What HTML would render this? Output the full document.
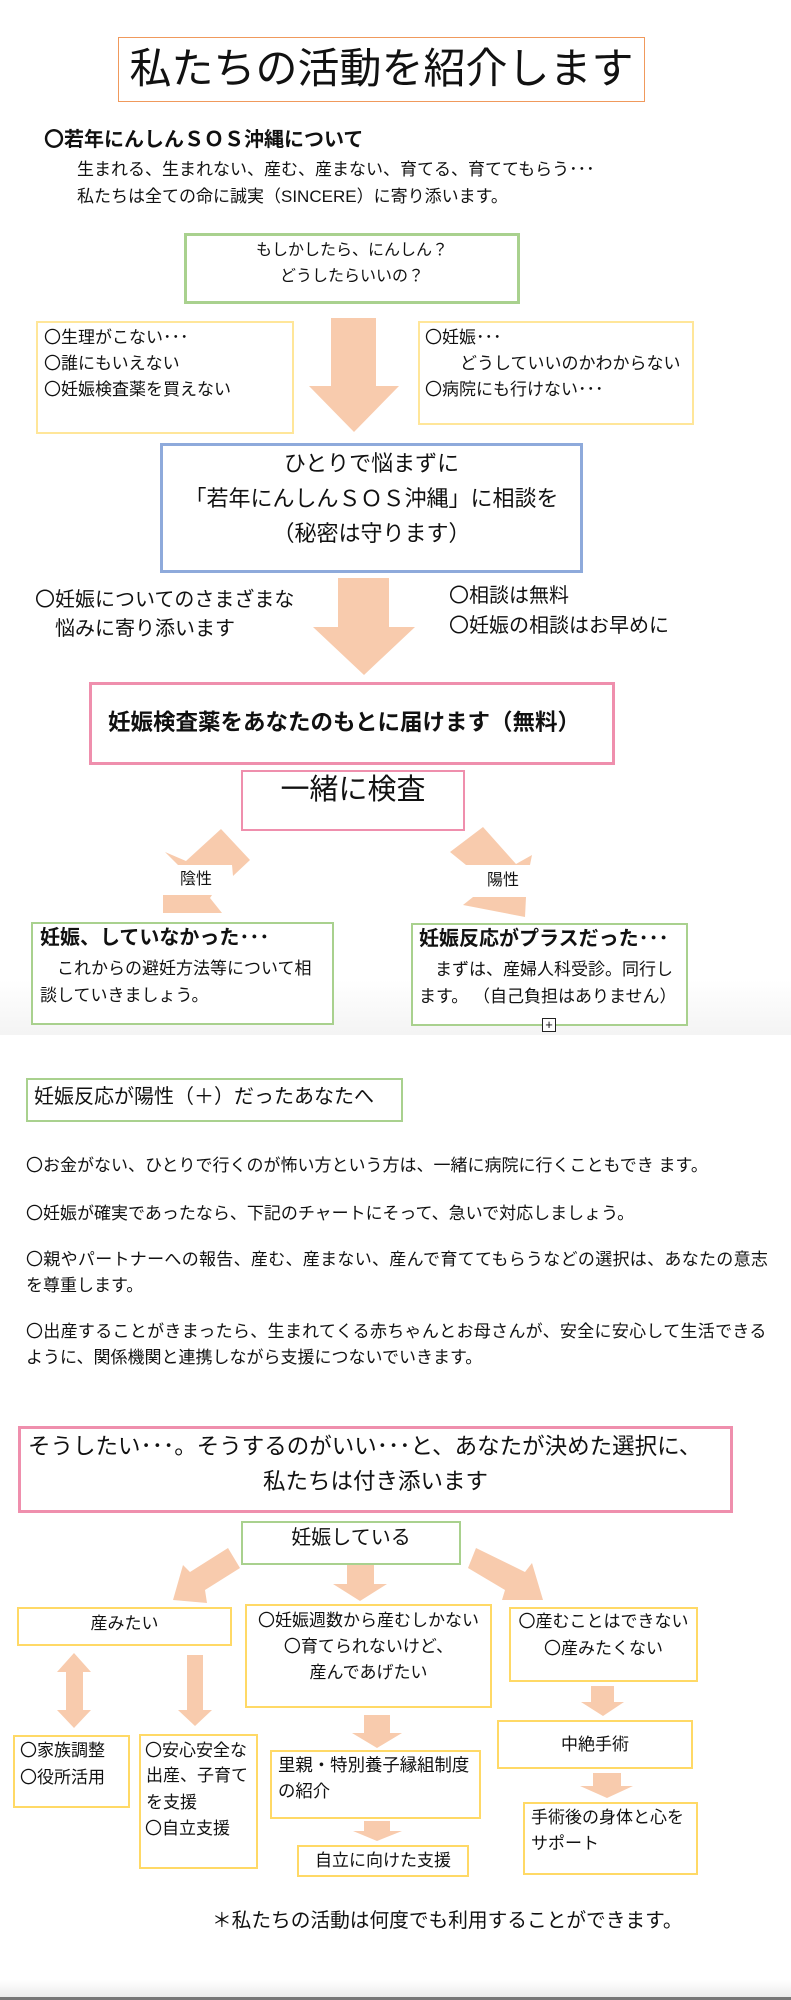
<!DOCTYPE html>
<html><head><meta charset="utf-8">
<style>
html,body{margin:0;padding:0;}
body{width:791px;height:2000px;position:relative;background:#fff;overflow:hidden;font-family:"Liberation Sans","Noto Sans CJK JP",sans-serif;color:#111;}
.b{position:absolute;box-sizing:border-box;}
.t{position:absolute;white-space:nowrap;line-height:1;}
.c{text-align:center;}
svg{position:absolute;left:0;top:0;}
</style></head><body>
<div class="b" style="left:0;top:0;width:791px;height:1035px;background:linear-gradient(#fff 0,#fff 980px,#f4f4f4 1034px);"></div>
<div class="b" style="left:0;top:1980px;width:791px;height:17px;background:linear-gradient(#fff,#ececec);"></div>
<div class="b" style="left:0;top:1997px;width:791px;height:3px;background:#777;"></div>

<svg width="791" height="2000">
<g fill="#f8cbad">
<polygon points="331,318 376,318 376,386 399,386 354,432 309,386 331,386"/>
<polygon points="338,578 389,578 389,627 415,627 364,675 313,627 338,627"/>
<polygon points="165,852 178,865 232,865 233,876 250,860 221,829 186,861"/>
<polygon points="163,895 212,895 210,898 222,913 163,913"/>
<polygon points="483,827 450,852 466,865 530,865 532,855 516,864"/>
<polygon points="473,897 526,897 525,917 463,905"/>
<polygon points="228,1548 240,1568 205,1590 207,1603 173,1600 183,1565 190,1572"/>
<polygon points="347,1565 374,1565 374,1584 387,1584 360,1601 333,1584 347,1584"/>
<polygon points="476,1548 468,1568 505,1590 502,1600 543,1600 532,1563 525,1572"/>
<polygon points="74,1653 91,1672 83,1672 83,1710 91,1710 74,1728 57,1710 66,1710 66,1672 57,1672"/>
<polygon points="187,1655 203,1655 203,1710 212,1710 195,1726 178,1710 187,1710"/>
<polygon points="364,1715 390,1715 390,1733 402,1733 377,1748 352,1733 364,1733"/>
<polygon points="364,1821 390,1821 390,1831 402,1831 377,1841 353,1831 364,1831"/>
<polygon points="591,1686 614,1686 614,1702 624,1702 603,1716 581,1702 591,1702"/>
<polygon points="593,1773 621,1773 621,1786 633,1786 607,1798 580,1786 593,1786"/>
</g>
</svg>

<div class="b" style="left:118px;top:37px;width:527px;height:65px;border:1px solid #f0995c;"></div>
<div class="t c" style="left:118px;width:527px;top:48px;font-size:42px;">私たちの活動を紹介します</div>

<div class="t" style="left:44px;top:130px;font-size:20px;font-weight:bold;">〇若年にんしんＳＯＳ沖縄について</div>
<div class="t" style="left:77px;top:161px;font-size:17px;">生まれる、生まれない、産む、産まない、育てる、育ててもらう･･･</div>
<div class="t" style="left:77px;top:188px;font-size:17px;">私たちは全ての命に誠実（SINCERE）に寄り添います。</div>

<div class="b" style="left:184px;top:233px;width:336px;height:71px;border:3px solid #a9d18e;"></div>
<div class="t c" style="left:184px;width:336px;top:243px;font-size:16px;">もしかしたら、にんしん？</div>
<div class="t c" style="left:184px;width:336px;top:269px;font-size:16px;">どうしたらいいの？</div>

<div class="b" style="left:36px;top:321px;width:258px;height:113px;border:2px solid #ffe699;"></div>
<div class="t" style="left:44px;top:329px;font-size:17px;">〇生理がこない･･･</div>
<div class="t" style="left:44px;top:355px;font-size:17px;">〇誰にもいえない</div>
<div class="t" style="left:44px;top:381px;font-size:17px;">〇妊娠検査薬を買えない</div>

<div class="b" style="left:418px;top:321px;width:276px;height:104px;border:2px solid #ffe699;"></div>
<div class="t" style="left:425px;top:329px;font-size:17px;">〇妊娠･･･</div>
<div class="t" style="left:460px;top:355px;font-size:17px;">どうしていいのかわからない</div>
<div class="t" style="left:425px;top:381px;font-size:17px;">〇病院にも行けない･･･</div>

<div class="b" style="left:160px;top:443px;width:423px;height:130px;border:3px solid #8eaadb;"></div>
<div class="t c" style="left:160px;width:423px;top:453px;font-size:22px;">ひとりで悩まずに</div>
<div class="t c" style="left:160px;width:423px;top:488px;font-size:22px;">「若年にんしんＳＯＳ沖縄」に相談を</div>
<div class="t c" style="left:160px;width:423px;top:523px;font-size:22px;">（秘密は守ります）</div>

<div class="t" style="left:35px;top:590px;font-size:20px;">〇妊娠についてのさまざまな</div>
<div class="t" style="left:55px;top:619px;font-size:20px;">悩みに寄り添います</div>
<div class="t" style="left:449px;top:586px;font-size:20px;">〇相談は無料</div>
<div class="t" style="left:449px;top:616px;font-size:20px;">〇妊娠の相談はお早めに</div>

<div class="b" style="left:89px;top:682px;width:526px;height:83px;border:3px solid #ef8fad;"></div>
<div class="t" style="left:108px;top:712px;font-size:22.5px;font-weight:bold;">妊娠検査薬をあなたのもとに届けます（無料）</div>

<div class="b" style="left:241px;top:770px;width:224px;height:61px;border:2px solid #ef8fad;"></div>
<div class="t c" style="left:241px;width:224px;top:776px;font-size:29px;">一緒に検査</div>

<div class="t" style="left:180px;top:872px;font-size:16px;">陰性</div>
<div class="t" style="left:487px;top:873px;font-size:16px;">陽性</div>

<div class="b" style="left:31px;top:922px;width:303px;height:103px;border:2px solid #a9d18e;background:#fff;"></div>
<div class="t" style="left:40px;top:928px;font-size:20px;font-weight:bold;">妊娠、していなかった･･･</div>
<div class="t" style="left:57px;top:960px;font-size:17px;">これからの避妊方法等について相</div>
<div class="t" style="left:40px;top:987px;font-size:17px;">談していきましょう。</div>

<div class="b" style="left:411px;top:923px;width:277px;height:103px;border:2px solid #a9d18e;background:#fff;"></div>
<div class="t" style="left:419px;top:929px;font-size:20px;font-weight:bold;">妊娠反応がプラスだった･･･</div>
<div class="t" style="left:435px;top:961px;font-size:17px;">まずは、産婦人科受診。同行し</div>
<div class="t" style="left:419px;top:988px;font-size:17px;">ます。 （自己負担はありません）</div>
<div class="b" style="left:542px;top:1018px;width:14px;height:14px;border:1px solid #222;background:#fff;font-size:13px;line-height:12px;text-align:center;">+</div>

<div class="b" style="left:26px;top:1078px;width:377px;height:44px;border:2px solid #a9d18e;"></div>
<div class="t" style="left:34px;top:1087px;font-size:20px;">妊娠反応が陽性（＋）だったあなたへ</div>

<div class="t" style="left:26px;top:1157px;font-size:17px;">〇お金がない、ひとりで行くのが怖い方という方は、一緒に病院に行くこともでき ます。</div>
<div class="t" style="left:26px;top:1205px;font-size:17px;">〇妊娠が確実であったなら、下記のチャートにそって、急いで対応しましょう。</div>
<div class="t" style="left:26px;top:1251px;font-size:17px;letter-spacing:0.3px;">〇親やパートナーへの報告、産む、産まない、産んで育ててもらうなどの選択は、あなたの意志</div>
<div class="t" style="left:26px;top:1277px;font-size:17px;">を尊重します。</div>
<div class="t" style="left:26px;top:1323px;font-size:17px;letter-spacing:0.3px;">〇出産することがきまったら、生まれてくる赤ちゃんとお母さんが、安全に安心して生活できる</div>
<div class="t" style="left:26px;top:1349px;font-size:17px;">ように、関係機関と連携しながら支援につないでいきます。</div>

<div class="b" style="left:18px;top:1426px;width:715px;height:87px;border:3px solid #ef8fad;"></div>
<div class="t" style="left:28px;top:1436px;font-size:22.5px;">そうしたい･･･。そうするのがいい･･･と、あなたが決めた選択に、</div>
<div class="t c" style="left:18px;width:715px;top:1471px;font-size:22.5px;">私たちは付き添います</div>

<div class="b" style="left:241px;top:1521px;width:220px;height:44px;border:2px solid #a9d18e;"></div>
<div class="t c" style="left:241px;width:220px;top:1528px;font-size:20px;">妊娠している</div>

<div class="b" style="left:17px;top:1607px;width:215px;height:39px;border:2px solid #ffd966;"></div>
<div class="t c" style="left:17px;width:215px;top:1615px;font-size:17px;">産みたい</div>

<div class="b" style="left:245px;top:1604px;width:247px;height:104px;border:2px solid #ffd966;"></div>
<div class="t c" style="left:245px;width:247px;top:1612px;font-size:17px;">〇妊娠週数から産むしかない</div>
<div class="t c" style="left:245px;width:247px;top:1638px;font-size:17px;">〇育てられないけど、</div>
<div class="t c" style="left:245px;width:247px;top:1664px;font-size:17px;">産んであげたい</div>

<div class="b" style="left:509px;top:1607px;width:189px;height:75px;border:2px solid #ffd966;"></div>
<div class="t c" style="left:509px;width:189px;top:1613px;font-size:17px;">〇産むことはできない</div>
<div class="t c" style="left:509px;width:189px;top:1640px;font-size:17px;">〇産みたくない</div>

<div class="b" style="left:13px;top:1735px;width:117px;height:73px;border:2px solid #ffd966;"></div>
<div class="t" style="left:20px;top:1742px;font-size:17px;">〇家族調整</div>
<div class="t" style="left:20px;top:1769px;font-size:17px;">〇役所活用</div>

<div class="b" style="left:139px;top:1734px;width:119px;height:135px;border:2px solid #ffd966;"></div>
<div class="t" style="left:145px;top:1742px;font-size:17px;">〇安心安全な</div>
<div class="t" style="left:146px;top:1767px;font-size:17px;">出産、子育て</div>
<div class="t" style="left:146px;top:1794px;font-size:17px;">を支援</div>
<div class="t" style="left:145px;top:1820px;font-size:17px;">〇自立支援</div>

<div class="b" style="left:270px;top:1750px;width:211px;height:69px;border:2px solid #ffd966;"></div>
<div class="t" style="left:278px;top:1757px;font-size:17.4px;">里親・特別養子縁組制度</div>
<div class="t" style="left:278px;top:1783px;font-size:17.4px;">の紹介</div>

<div class="b" style="left:297px;top:1845px;width:172px;height:32px;border:2px solid #ffd966;"></div>
<div class="t c" style="left:297px;width:172px;top:1852px;font-size:17px;">自立に向けた支援</div>

<div class="b" style="left:497px;top:1720px;width:196px;height:49px;border:2px solid #ffd966;"></div>
<div class="t c" style="left:497px;width:196px;top:1736px;font-size:17px;">中絶手術</div>

<div class="b" style="left:523px;top:1802px;width:175px;height:73px;border:2px solid #ffd966;"></div>
<div class="t" style="left:531px;top:1809px;font-size:17px;">手術後の身体と心を</div>
<div class="t" style="left:531px;top:1835px;font-size:17px;">サポート</div>

<div class="t" style="left:212px;top:1912px;font-size:19.7px;">＊私たちの活動は何度でも利用することができます。</div>
</body></html>
